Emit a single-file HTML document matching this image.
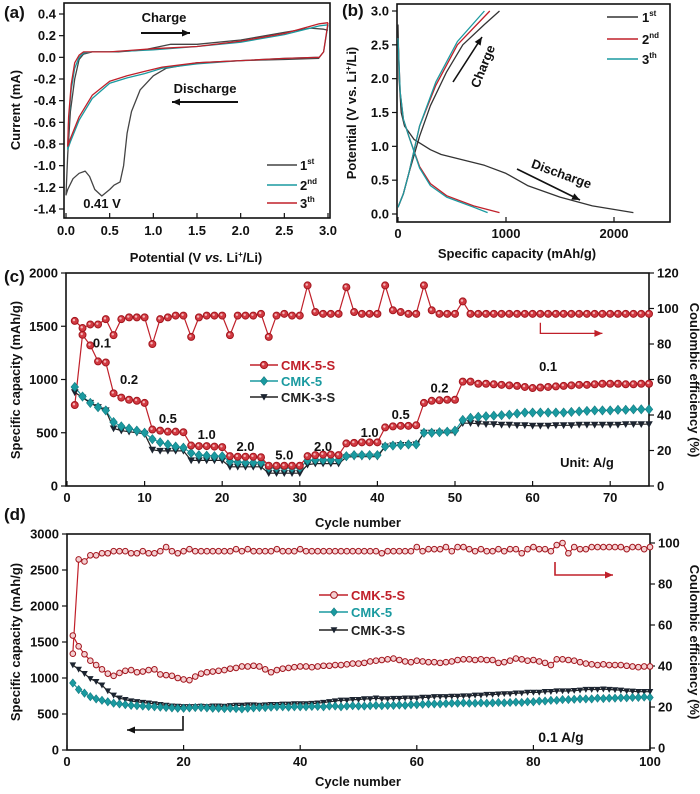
<!DOCTYPE html>
<html><head><meta charset="utf-8">
<style>
html,body{margin:0;padding:0;background:#fff;}
svg{display:block;font-family:"Liberation Sans",Arial,sans-serif;font-weight:bold;}
</style></head>
<body>
<svg id="fig" width="700" height="794" viewBox="0 0 700 794" xmlns="http://www.w3.org/2000/svg"></svg>
<script>
// ---------- Panel (a) CV data ----------
const cv1V = [2.9,2.5,2.0,1.5,1.15,1.0,0.85,0.75,0.7,0.66,0.62,0.55,0.5,0.41,0.33,0.27,0.22,0.15,0.08,0.02,0.0,0.02,0.05,0.1,0.15,0.2,0.3,0.6,0.9,1.2,1.5,2.0,2.5,2.8,2.95,3.0];
const cv1I = [-0.01,-0.02,-0.03,-0.05,-0.1,-0.17,-0.3,-0.5,-0.7,-1.0,-1.15,-1.18,-1.22,-1.28,-1.22,-1.1,-1.05,-1.07,-1.12,-1.22,-1.27,-0.9,-0.5,-0.2,-0.02,0.03,0.05,0.05,0.07,0.12,0.12,0.16,0.23,0.27,0.26,0.25];
const cv2V = [3.0,2.95,2.9,2.5,2.0,1.5,1.1,0.9,0.7,0.5,0.3,0.15,0.05,0.02,0.03,0.06,0.1,0.15,0.2,0.3,0.5,1.0,1.5,2.0,2.5,2.9,3.0];
const cv2I = [0.3,0.05,0.0,-0.01,-0.03,-0.06,-0.1,-0.15,-0.19,-0.24,-0.38,-0.58,-0.78,-0.85,-0.6,-0.3,-0.1,0.0,0.04,0.05,0.05,0.07,0.1,0.14,0.21,0.29,0.3];
const cv3V = [3.0,2.95,2.9,2.5,2.0,1.5,1.1,0.9,0.7,0.5,0.3,0.15,0.05,0.02,0.03,0.06,0.1,0.15,0.2,0.3,0.5,1.0,1.5,2.0,2.5,2.9,3.0];
const cv3I = [0.32,0.05,0.0,-0.01,-0.03,-0.05,-0.09,-0.13,-0.17,-0.22,-0.35,-0.55,-0.75,-0.82,-0.55,-0.25,-0.05,0.02,0.05,0.05,0.05,0.08,0.1,0.15,0.22,0.31,0.32];
const aTicksY = [0.4,0.2,0.0,-0.2,-0.4,-0.6,-0.8,-1.0,-1.2,-1.4];
const aTicksX = [0.0,0.5,1.0,1.5,2.0,2.5,3.0];

// ---------- Panel (b) GCD data ----------
const b1dC = [0,10,30,60,150,300,400,600,800,1000,1200,1500,1800,2180];
const b1dV = [2.8,2.0,1.5,1.3,1.1,0.95,0.88,0.8,0.72,0.6,0.42,0.25,0.12,0.02];
const b1cC = [0,50,100,200,300,450,600,800,940];
const b1cV = [0.1,0.3,0.6,1.15,1.6,2.1,2.5,2.8,3.0];
const b2dC = [0,20,50,100,200,300,450,700,940];
const b2dV = [2.6,1.8,1.4,1.15,0.7,0.45,0.27,0.12,0.02];
const b2cC = [0,50,100,200,350,550,850];
const b2cV = [0.1,0.3,0.6,1.3,1.9,2.5,3.0];
const b3dC = [0,20,50,100,200,300,450,700,830];
const b3dV = [2.6,1.8,1.4,1.15,0.68,0.42,0.25,0.1,0.02];
const b3cC = [0,50,100,200,350,550,800];
const b3cV = [0.1,0.3,0.6,1.3,1.95,2.55,3.0];
const bTicksX = [0,1000,2000];
const bTicksY = [0.0,0.5,1.0,1.5,2.0,2.5,3.0];

// ---------- Panel (c) rate data ----------
const cCap5S = [760,1420,1320,1170,1160,870,830,810,800,780,530,520,510,510,505,380,375,375,370,365,280,275,275,275,270,190,190,190,190,190,280,290,295,295,290,400,405,410,410,410,550,560,565,565,570,780,800,805,810,810,980,980,960,960,955,950,945,940,930,920,925,930,935,940,945,950,950,955,960,960,960,955,955,960,960];
const cCE5S = [93,89,91,91,94,85,94,95,95,95,80,94,95,96,96,84,95,96,96,96,85,96,96,96,97,84,96,97,96,96,113,98,97,97,97,112,98,97,97,97,113,99,98,97,97,113,99,97,97,97,104,97,97,97,97,97,97,97,97,97,97,97,97,97,97,97,97,97,97,97,97,97,97,97,97];
const cCap5 = [930,840,780,740,710,600,560,540,520,500,440,410,390,370,360,310,290,285,280,280,230,225,220,220,220,170,170,170,170,170,240,245,245,245,245,280,290,290,290,290,370,380,385,390,390,500,500,505,510,520,620,640,650,655,660,665,670,680,690,690,690,690,690,690,695,700,705,710,710,710,715,715,720,720,720];
const cCap3S = [880,830,780,740,710,540,520,510,500,490,340,330,330,330,330,240,240,240,240,240,180,180,180,180,180,120,120,120,120,120,200,210,210,210,210,270,275,275,275,275,370,380,385,385,390,500,500,500,500,500,590,590,585,580,580,575,575,570,570,565,565,565,570,570,570,575,575,575,575,575,575,580,580,580,580];
const cRateLabels = ["0.1","0.2","0.5","1.0","2.0","5.0","2.0","1.0","0.5","0.2","0.1"];
const cRateCycle = [4.5,8,13,18,23,28,33,39,43,48,62];
const cRateCap = [1300,960,590,440,330,250,330,460,630,880,1080];
const cTicksX = [0,10,20,30,40,50,60,70];
const cTicksY = [0,500,1000,1500,2000];
const cTicksY2 = [0,20,40,60,80,100,120];

// ---------- Panel (d) cycling data ----------
const dCap5S = [1590,1440,1330,1240,1180,1120,1060,1030,1070,1100,1110,1080,1090,1110,1120,1050,1040,1030,1000,980,970,1020,1060,1080,1090,1100,1110,1130,1140,1160,1160,1170,1160,1120,1080,1110,1130,1140,1150,1160,1160,1150,1160,1170,1170,1180,1180,1190,1200,1200,1210,1230,1240,1250,1260,1270,1250,1230,1220,1240,1230,1220,1220,1210,1220,1230,1250,1260,1260,1250,1260,1250,1250,1210,1220,1240,1270,1260,1240,1250,1230,1210,1180,1260,1260,1250,1240,1220,1200,1190,1180,1190,1180,1180,1180,1170,1160,1150,1160,1160];
const dCE5S = [46,92,91,94,94,95,95,96,96,96,95,95,96,95,95,96,98,96,95,96,97,96,96,96,96,96,96,96,97,96,97,96,96,96,96,97,96,96,96,97,96,96,96,96,96,96,96,96,96,96,96,96,96,95,96,96,96,96,96,98,96,97,97,97,98,96,98,98,97,96,97,96,96,97,96,97,97,95,97,98,97,97,96,99,100,95,98,97,97,98,98,98,98,98,98,97,98,98,97,98];
const dCap5 = [930,840,790,740,710,690,670,650,640,630,620,615,610,605,600,595,590,585,580,580,585,590,590,585,580,580,575,580,575,570,580,585,590,590,595,600,600,595,600,600,600,605,605,600,610,610,600,610,615,610,610,615,620,615,620,620,625,620,630,630,635,640,640,640,645,650,650,655,650,650,655,650,655,660,655,660,665,660,670,670,680,680,690,690,700,700,705,710,710,710,720,715,720,720,725,725,730,730,735,730];
const dCap3S = [1180,1120,1060,990,950,900,820,760,720,700,680,670,660,650,640,630,620,610,605,600,600,600,605,600,610,610,605,615,620,620,625,625,620,625,630,630,635,635,640,640,640,645,650,660,670,680,690,690,700,700,710,710,720,710,710,715,715,720,720,720,730,730,740,740,740,745,745,750,750,760,760,770,770,775,780,780,790,790,800,800,800,810,810,820,820,820,825,830,840,840,840,845,840,835,830,820,815,810,810,810];
const dTicksX = [0,20,40,60,80,100];
const dTicksY = [0,500,1000,1500,2000,2500,3000];
const dTicksY2 = [0,20,40,60,80,100];

const RED="#c0202a", TEAL="#1a9aa0", BLK="#222";
const svg=document.getElementById('fig');
const NS="http://www.w3.org/2000/svg";
function el(tag,attrs,parent){const e=document.createElementNS(NS,tag);for(const k in attrs)e.setAttribute(k,attrs[k]);(parent||svg).appendChild(e);return e;}
function txt(s,x,y,size,anchor,fill,parent,rot){const t=el('text',{x:x,y:y,'font-size':size,'text-anchor':anchor||'middle',fill:fill||'#111'},parent);if(rot)t.setAttribute('transform','rotate('+rot+' '+x+' '+y+')');t.textContent=s;return t;}
function lin(d0,d1,p0,p1){return v=>p0+(v-d0)*(p1-p0)/(d1-d0);}
function poly(xs,ys,sx,sy,color,w,parent){let d='';for(let i=0;i<xs.length;i++)d+=(i?'L':'M')+sx(xs[i]).toFixed(1)+' '+sy(ys[i]).toFixed(1);return el('path',{d:d,fill:'none',stroke:color,'stroke-width':w||1.3,'stroke-linejoin':'round'},parent);}
function arrow(pts,color,parent,w){let d='';pts.forEach((p,i)=>d+=(i?'L':'M')+p[0]+' '+p[1]);el('path',{d:d,fill:'none',stroke:color,'stroke-width':w||1.6},parent);const a=pts[pts.length-2],b=pts[pts.length-1];const ang=Math.atan2(b[1]-a[1],b[0]-a[0]);const L=8,W=3.5;const p1=[b[0]-L*Math.cos(ang)+W*Math.sin(ang),b[1]-L*Math.sin(ang)-W*Math.cos(ang)];const p2=[b[0]-L*Math.cos(ang)-W*Math.sin(ang),b[1]-L*Math.sin(ang)+W*Math.cos(ang)];el('path',{d:'M'+b[0]+' '+b[1]+'L'+p1[0]+' '+p1[1]+'L'+p2[0]+' '+p2[1]+'Z',fill:color},parent);}
function frame(x0,y0,x1,y1,parent){el('rect',{x:x0,y:y0,width:x1-x0,height:y1-y0,fill:'none',stroke:'#111','stroke-width':1.6},parent);}
function marker(type,x,y,r,parent,hollow){
  if(type==='circle'){el('circle',{cx:x,cy:y,r:r,fill:hollow?'#f4d0d2':'#d23a42',stroke:'#a3161e','stroke-width':1},parent);if(!hollow)el('circle',{cx:x-0.8,cy:y-0.8,r:r*0.35,fill:'#f3b6b9'},parent);}
  else if(type==='diamond'){el('path',{d:`M${x} ${y-r-0.8}L${x+r} ${y}L${x} ${y+r+0.8}L${x-r} ${y}Z`,fill:TEAL,stroke:'#137a80','stroke-width':0.6},parent);}
  else {el('path',{d:`M${x-r} ${y-r*0.8}L${x+r} ${y-r*0.8}L${x} ${y+r}Z`,fill:'#1c2430'},parent);}
}

// ================= PANEL A =================
(function(){
const g=el('g',{});
const sx=lin(0,3,66,328), sy=lin(0.4,-1.4,14,209);
frame(64,3,330,218,g);
aTicksX.forEach(v=>{el('line',{x1:sx(v),y1:218,x2:sx(v),y2:213,stroke:'#111','stroke-width':1.2},g);txt(v.toFixed(1),sx(v),235,13,'middle','#111',g);});
aTicksY.forEach(v=>{el('line',{x1:64,y1:sy(v),x2:59,y2:sy(v),stroke:'#111','stroke-width':1.2},g);txt(v.toFixed(1),56,sy(v)+4.5,13,'end','#111',g);});
const l1=poly(cv1V,cv1I,sx,sy,'#444',1.3,g);
const l2=poly(cv2V,cv2I,sx,sy,TEAL,1.3,g);
const l3=poly(cv3V,cv3I,sx,sy,RED,1.3,g);
txt('(a)',4,18,17,'start','#111',g);
txt('Current (mA)',20,110,13,'middle','#111',g,-90);
const xt=txt('',196,262,13,'middle','#111',g);xt.innerHTML='Potential (V <tspan font-style="italic">vs.</tspan> Li<tspan font-size="8" dy="-5">+</tspan><tspan dy="5">/Li)</tspan>';
txt('Charge',164,22,13,'middle','#111',g);arrow([[141,33],[190,33]],'#111',g,2);
txt('Discharge',205,93,13,'middle','#111',g);arrow([[238,102],[172,102]],'#111',g,2);
txt('0.41 V',102,208,13,'middle','#111',g);
[['1','st','#444',165],['2','nd',TEAL,185],['3','th',RED,203]].forEach(a=>{el('line',{x1:267,y1:a[3],x2:297,y2:a[3],stroke:a[2],'stroke-width':1.5},g);const t=txt('',300,a[3]+5,13,'start','#111',g);t.innerHTML=a[0]+'<tspan font-size="8" dy="-6">'+a[1]+'</tspan>';});
})();

// ================= PANEL B =================
(function(){
const g=el('g',{});
const sx=lin(0,1000,398,506), sy=lin(0,3,214,11);
frame(397,4,670,222,g);
bTicksX.forEach(v=>{el('line',{x1:sx(v),y1:222,x2:sx(v),y2:217,stroke:'#111','stroke-width':1.2},g);txt(String(v),sx(v),238,13,'middle','#111',g);});
bTicksY.forEach(v=>{el('line',{x1:397,y1:sy(v),x2:392,y2:sy(v),stroke:'#111','stroke-width':1.2},g);txt(v.toFixed(1),389,sy(v)+4.5,13,'end','#111',g);});
[[b1dC,b1dV,'#333','gcd-1st-discharge'],[b1cC,b1cV,'#333','gcd-1st-charge'],[b2dC,b2dV,RED,'gcd-2nd-discharge'],[b2cC,b2cV,RED,'gcd-2nd-charge'],[b3dC,b3dV,TEAL,'gcd-3rd-discharge'],[b3cC,b3cV,TEAL,'gcd-3rd-charge']].forEach(s=>{const p=poly(s[0],s[1],sx,sy,s[2],1.3,g);});
txt('(b)',342,16,17,'start','#111',g);
const yt=txt('',356,113,13,'middle','#111',g,-90);yt.innerHTML='Potential (V vs. Li<tspan font-size="8" dy="-5">+</tspan><tspan dy="5">/Li)</tspan>';
txt('Specific capacity (mAh/g)',517,258,13,'middle','#111',g);
txt('Charge',487,68,13,'middle','#111',g,-68);arrow([[453,82],[482,37]],'#111',g,1.6);
txt('Discharge',560,178,13,'middle','#111',g,20);arrow([[517,169],[580,200]],'#111',g,1.6);
[['1','st','#333',17],['2','nd',RED,39],['3','th',TEAL,59]].forEach(a=>{el('line',{x1:607,y1:a[3],x2:638,y2:a[3],stroke:a[2],'stroke-width':1.5},g);const t=txt('',642,a[3]+5,13,'start','#111',g);t.innerHTML=a[0]+'<tspan font-size="8" dy="-6">'+a[1]+'</tspan>';});
})();

// ================= PANEL C =================
(function(){
const g=el('g',{});
const sx=lin(0,75,67,649), sy=lin(0,2000,486,273), sy2=lin(0,120,486,273);
frame(66,273,649,486,g);
cTicksX.forEach(v=>{el('line',{x1:sx(v),y1:486,x2:sx(v),y2:481,stroke:'#111','stroke-width':1.2},g);txt(String(v),sx(v),502,13,'middle','#111',g);});
cTicksY.forEach(v=>{el('line',{x1:66,y1:sy(v),x2:61,y2:sy(v),stroke:'#111','stroke-width':1.2},g);txt(String(v),58,sy(v)+4.5,13,'end','#111',g);});
cTicksY2.forEach(v=>{el('line',{x1:649,y1:sy2(v),x2:654,y2:sy2(v),stroke:'#111','stroke-width':1.2},g);txt(String(v),657,sy2(v)+4.5,13,'start','#111',g);});
const cyc=cCap5S.map((_,i)=>i+1);
poly(cyc,cCE5S,sx,sy2,RED,1.2,g);
poly(cyc,cCap5S,sx,sy,RED,1.2,g);
poly(cyc,cCap5,sx,sy,TEAL,1.2,g);
poly(cyc,cCap3S,sx,sy,BLK,1.2,g);
cCap3S.forEach((v,i)=>{const m=el('g',{},g);marker('tri',sx(i+1),sy(v),3.8,m);});
cCap5.forEach((v,i)=>{const m=el('g',{},g);marker('diamond',sx(i+1),sy(v),3.8,m);});
cCap5S.forEach((v,i)=>{const m=el('g',{},g);marker('circle',sx(i+1),sy(v),3.5,m);});
cCE5S.forEach((v,i)=>{const m=el('g',{},g);marker('circle',sx(i+1),sy2(v),3.5,m);});
cRateLabels.forEach((s,i)=>txt(s,sx(cRateCycle[i]),sy(cRateCap[i]),13,'middle','#111',g));
txt('Unit: A/g',587,467,13,'middle','#111',g);
arrow([[sx(61),sy2(92)],[sx(61),sy2(86)],[sx(69),sy2(86)]],RED,g,1.3);
txt('(c)',4,282,17,'start','#111',g);
txt('Specific capacity (mAh/g)',20,380,13,'middle','#111',g,-90);
txt('Coulombic efficiency (%)',690,380,13,'middle','#111',g,90);
txt('Cycle number',358,527,13,'middle','#111',g);
const lg=el('g',{},g);
[['CMK-5-S',RED,'circle',365],['CMK-5',TEAL,'diamond',381],['CMK-3-S',BLK,'tri',397]].forEach(a=>{el('line',{x1:250,y1:a[3],x2:278,y2:a[3],stroke:a[1],'stroke-width':1.5},lg);marker(a[2],264,a[3],3.6,lg);txt(a[0],281,a[3]+5,13,'start',a[1],lg);});
})();

// ================= PANEL D =================
(function(){
const g=el('g',{});
const sx=lin(0,100,67,650), sy=lin(0,3000,750,534), sy2=lin(0,100,748,543);
frame(67,534,650,750,g);
dTicksX.forEach(v=>{el('line',{x1:sx(v),y1:750,x2:sx(v),y2:745,stroke:'#111','stroke-width':1.2},g);txt(String(v),sx(v),766,13,'middle','#111',g);});
dTicksY.forEach(v=>{el('line',{x1:67,y1:sy(v),x2:62,y2:sy(v),stroke:'#111','stroke-width':1.2},g);txt(String(v),59,sy(v)+4.5,13,'end','#111',g);});
dTicksY2.forEach(v=>{el('line',{x1:650,y1:sy2(v),x2:655,y2:sy2(v),stroke:'#111','stroke-width':1.2},g);txt(String(v),658,sy2(v)+4.5,13,'start','#111',g);});
const cyc=dCap5S.map((_,i)=>i+1);
poly(cyc,dCE5S,sx,sy2,RED,1.2,g);
poly(cyc,dCap5S,sx,sy,RED,1.2,g);
poly(cyc,dCap3S,sx,sy,BLK,1.2,g);
poly(cyc,dCap5,sx,sy,TEAL,1.2,g);
dCap3S.forEach((v,i)=>{const m=el('g',{},g);marker('tri',sx(i+1),sy(v),3.3,m);});
dCap5.forEach((v,i)=>{const m=el('g',{},g);marker('diamond',sx(i+1),sy(v),3.3,m);});
dCap5S.forEach((v,i)=>{const m=el('g',{},g);marker('circle',sx(i+1),sy(v),2.8,m,true);});
dCE5S.forEach((v,i)=>{const m=el('g',{},g);marker('circle',sx(i+1),sy2(v),2.8,m,true);});
arrow([[555,562],[555,575],[613,575]],RED,g,1.6);
arrow([[183,716],[183,730],[127,730]],'#111',g,1.6);
txt('0.1 A/g',561,742,14,'middle','#111',g);
txt('(d)',4,520,17,'start','#111',g);
txt('Specific capacity (mAh/g)',20,642,13,'middle','#111',g,-90);
txt('Coulombic efficiency (%)',690,642,13,'middle','#111',g,90);
txt('Cycle number',358,786,13,'middle','#111',g);
const lg=el('g',{},g);
[['CMK-5-S',RED,'circle',595],['CMK-5',TEAL,'diamond',612],['CMK-3-S',BLK,'tri',630]].forEach(a=>{el('line',{x1:319,y1:a[3],x2:348,y2:a[3],stroke:a[1],'stroke-width':1.5},lg);marker(a[2],334,a[3],3.4,lg,a[2]==='circle');txt(a[0],351,a[3]+5,13,'start',a[1],lg);});
})();
</script>
</body></html>
